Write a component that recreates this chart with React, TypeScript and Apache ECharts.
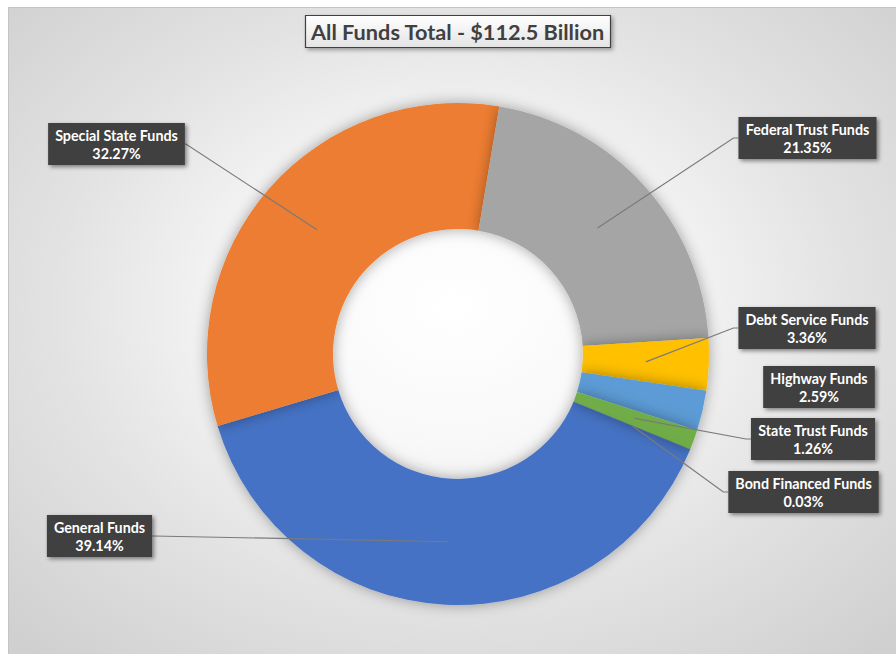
import React, { useEffect, useRef } from 'react';
import * as echarts from 'echarts';

const titleText = 'All Funds Total - $112.5 Billion';
const categories = [
  'General Funds',
  'Special State Funds',
  'Federal Trust Funds',
  'Debt Service Funds',
  'Highway Funds',
  'State Trust Funds',
  'Bond Financed Funds',
];
const shares = [39.14, 32.27, 21.35, 3.36, 2.59, 1.26, 0.03];
const colors = ['#4472C4', '#ED7D31', '#A5A5A5', '#FFC000', '#5B9BD5', '#70AD47', '#264478'];
const showLeader = [true, true, true, true, false, true, true];

// label box placement: [centre x, top y] in chart pixels, and which side the leader meets
const labelPos = [
  [90.5, 507],
  [107.5, 115],
  [798.5, 109],
  [798, 299],
  [810, 358],
  [804, 410],
  [794.5, 463],
];
const leaderOnRight = [true, true, false, false, false, false, false];

const CENTER = [449, 346];
const FONT = 'Lato, "Open Sans", sans-serif';

export default function App() {
  const ref = useRef<HTMLDivElement>(null);
  useEffect(() => {
    if (!ref.current) return;
    const chart = echarts.init(ref.current, null, { renderer: 'svg' });
    const data = categories.map((name, i) => ({
      name,
      value: shares[i],
      itemStyle: { color: colors[i] },
    }));
    const labelData = categories.map((name, i) => ({
      name,
      value: shares[i],
      labelLine: { show: showLeader[i] },
    }));
    chart.setOption({
      animation: false,
      title: {
        text: titleText,
        left: 296,
        top: 7,
        padding: [4, 6, 3, 6],
        backgroundColor: new echarts.graphic.LinearGradient(0, 0, 0, 1, [
          { offset: 0, color: '#ffffff' },
          { offset: 1, color: '#e4e4e4' },
        ]),
        borderColor: '#404040',
        borderWidth: 1.2,
        shadowBlur: 4,
        shadowColor: 'rgba(0,0,0,0.35)',
        shadowOffsetX: 2,
        shadowOffsetY: 2,
        textStyle: {
          color: '#404040',
          fontFamily: FONT,
          fontWeight: 'bold',
          fontSize: 21.7,
          lineHeight: 26,
        },
      },
      series: [
        {
          type: 'pie',
          z: 1,
          center: CENTER,
          radius: [125, 251],
          startAngle: -22.4,
          clockwise: true,
          silent: true,
          label: { show: false },
          labelLine: { show: false },
          emphasis: { disabled: true },
          itemStyle: {
            shadowBlur: 14,
            shadowColor: 'rgba(0,0,0,0.35)',
          },
          data,
        },
        {
          type: 'pie',
          z: 3,
          center: CENTER,
          radius: [0, 188],
          startAngle: -22.4,
          clockwise: true,
          silent: true,
          avoidLabelOverlap: false,
          emphasis: { disabled: true },
          itemStyle: { color: 'rgba(0,0,0,0)' },
          label: {
            show: true,
            position: 'outside',
            formatter: (p: any) => `${p.name}\n${Number(p.value).toFixed(2)}%`,
            color: '#ffffff',
            fontFamily: FONT,
            fontWeight: 'bold',
            fontSize: 14.3,
            lineHeight: 18,
            backgroundColor: '#404040',
            padding: [3, 7, 3, 7],
            shadowBlur: 4,
            shadowColor: 'rgba(0,0,0,0.45)',
            shadowOffsetX: 2,
            shadowOffsetY: 2,
          },
          labelLine: {
            show: true,
            length: 10,
            length2: 10,
            lineStyle: { color: '#7a7a7a', width: 1.2 },
          },
          labelLayout: (p: any) => {
            const i = p.dataIndex;
            const [cx, top] = labelPos[i];
            const w = p.labelRect.width;
            const h = p.labelRect.height;
            const res: any = { x: cx, y: top, align: 'center', verticalAlign: 'top' };
            if (showLeader[i] && p.labelLinePoints && p.labelLinePoints.length) {
              const start = p.labelLinePoints[0];
              const endX = leaderOnRight[i] ? cx + w / 2 : cx - w / 2;
              const endY = top + h / 2;
              const stub = leaderOnRight[i] ? 1 : -5;
              res.labelLinePoints = [start, [endX + stub, endY], [endX, endY]];
            }
            return res;
          },
          data: labelData,
        },
      ],
    });
    return () => chart.dispose();
  }, []);

  return (
    <div
      style={{
        position: 'absolute',
        left: 8,
        top: 7,
        width: 888,
        height: 647,
        boxSizing: 'border-box',
        borderTop: '1px solid #c4c4c4',
        borderLeft: '1px solid #c4c4c4',
        background:
          'radial-gradient(ellipse 70% 72% at 50% 46%, #ffffff 0%, #f8f8f8 30%, #e2e2e2 65%, #d0d0d0 100%)',
      }}
    >
      <div ref={ref} style={{ position: 'absolute', left: 0, top: 0, width: 887, height: 646 }} />
    </div>
  );
}
